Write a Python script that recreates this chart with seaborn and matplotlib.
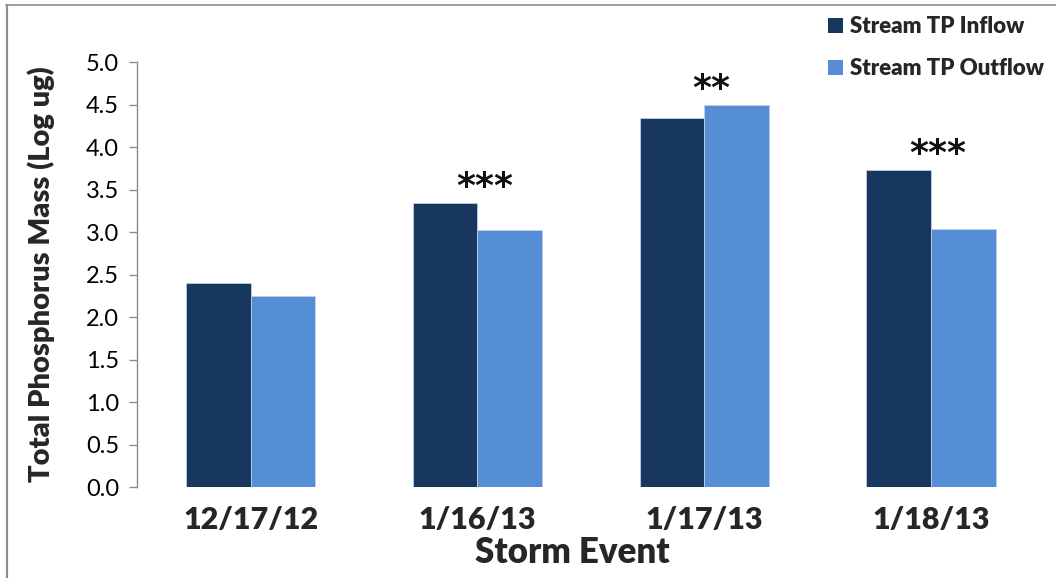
import matplotlib
matplotlib.use("Agg")
import matplotlib.pyplot as plt
from matplotlib.lines import Line2D
import pandas as pd
import seaborn as sns

# Storm events and log-transformed total phosphorus mass (log ug)
events = ["12/17/12", "1/16/13", "1/17/13", "1/18/13"]
inflow = [2.40, 3.34, 4.34, 3.73]
outflow = [2.25, 3.02, 4.50, 3.03]
significance = ["", "***", "**", "***"]

series_names = ["Stream TP Inflow", "Stream TP Outflow"]
colors = ["#17375E", "#558ED5"]

df = pd.DataFrame({
    "Storm Event": events * 2,
    "Mass": inflow + outflow,
    "Series": [series_names[0]] * len(events) + [series_names[1]] * len(events),
})

sns.set_theme(style="white")
plt.rcParams["font.family"] = ["Lato", "DejaVu Sans"]
HEAVY = "heavy"

fig = plt.figure(figsize=(10.56, 5.78), dpi=100)
ax = fig.add_axes([0.130, 0.1574, 0.859, 0.7353])

sns.barplot(data=df, x="Storm Event", y="Mass", hue="Series",
            order=events, hue_order=series_names, palette=colors,
            width=0.57, gap=0, errorbar=None, saturation=1,
            edgecolor="#BFCFE8", linewidth=0.6, ax=ax)

ax.set_ylim(0, 5.0)
ax.set_yticks([i * 0.5 for i in range(11)])
ax.set_yticklabels([f"{i * 0.5:.1f}" for i in range(11)], fontsize=17)
ax.set_xlim(-0.5, len(events) - 0.5)

ax.tick_params(axis="y", which="both", left=True, length=6, width=1,
               color="#8C8C8C", pad=7, labelcolor="black")
ax.tick_params(axis="x", bottom=False, pad=8, labelsize=22)
for lbl in ax.get_xticklabels():
    lbl.set_fontweight(HEAVY)

for side in ["top", "right", "bottom"]:
    ax.spines[side].set_visible(False)
ax.spines["left"].set_color("#8C8C8C")
ax.spines["left"].set_linewidth(1)

ax.set_ylabel("Total Phosphorus Mass (Log ug)", fontsize=21,
              fontweight=HEAVY, labelpad=22)
ax.set_xlabel("Storm Event", fontsize=25, fontweight=HEAVY, labelpad=0)
ax.xaxis.set_label_coords(0.48, -0.115)

# Significance markers above each pair of bars
for i, mark in enumerate(significance):
    if mark:
        top = max(inflow[i], outflow[i])
        ax.text(i + 0.03, top + 0.07, mark, ha="center", va="baseline",
                fontsize=26, fontweight="bold", color="#111111",
                family="DejaVu Sans")

# Legend in the upper right corner of the figure
handles = [plt.Rectangle((0, 0), 1, 1, facecolor=c, edgecolor="none") for c in colors]
leg = fig.legend(handles, series_names, loc="upper left",
                 bbox_to_anchor=(0.776, 0.988), frameon=False,
                 prop={"family": ["Lato", "DejaVu Sans"], "weight": HEAVY, "size": 16},
                 handlelength=0.66, handleheight=0.66, handletextpad=0.3,
                 labelspacing=0.95, borderaxespad=0)
if ax.get_legend() is not None:
    ax.get_legend().remove()

# Outer frame lines along the left and top edges
fig.add_artist(Line2D([0.0066, 0.0066], [0.0, 0.9915], transform=fig.transFigure,
                      color="#8C8C8C", linewidth=1.6))
fig.add_artist(Line2D([0.0057, 1.0], [0.9915, 0.9915], transform=fig.transFigure,
                      color="#8C8C8C", linewidth=1.2))

fig.savefig("out.png", dpi=100, facecolor="white")
